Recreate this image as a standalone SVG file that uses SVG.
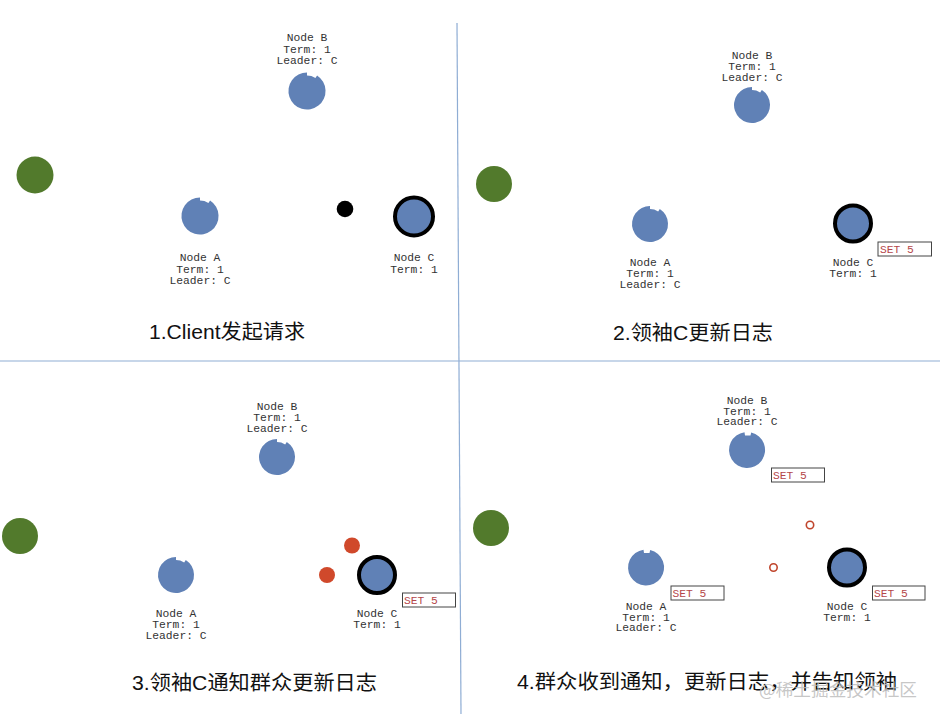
<svg xmlns="http://www.w3.org/2000/svg" width="940" height="720" viewBox="0 0 940 720">
<defs>
  <path id="notchA" d="M 9.80 -15.10 A 18 18 0 1 1 0 -18 L 0 -15 A 15 15 0 0 1 8.17 -12.58 Z"/>
  <path id="notchB" d="M 4.2 -17.5 A 18 18 0 1 1 -2.5 -17.8 L -2 -14.5 L 3.5 -14.6 Z"/>
</defs>
<style>
  .bg { fill: #ffffff; }
  .divider { stroke: #8fadd4; stroke-width: 1.2; fill: none; }
  .follower { fill: #6081b6; }
  .leader { fill: #6081b6; stroke: #000000; stroke-width: 4; }
  .client { fill: #527a2c; }
  .lbl { font-family: "Liberation Mono", "DejaVu Sans Mono", monospace; font-size: 11.3px; fill: #333333; text-anchor: middle; }
  .logbox { fill: #ffffff; stroke: #444444; stroke-width: 1; }
  .logtxt { font-family: "Liberation Mono", "DejaVu Sans Mono", monospace; font-size: 11.3px; fill: #b5474a; }
  .title { font-family: "Liberation Sans", "Noto Sans CJK SC", sans-serif; font-size: 20px; fill: #111111; text-anchor: middle; }
  .title2 { font-family: "Liberation Sans", "Noto Sans CJK SC", sans-serif; font-size: 20px; fill: #111111; }
  .req { fill: #000000; }
  .msg { fill: #d0492b; }
  .ack { fill: none; stroke: #c0452c; stroke-width: 1.6; }
  .wm { font-family: "Noto Sans CJK SC", sans-serif; font-size: 17px; fill: #bdbdbd; fill-opacity: 0.85; }
</style>
<rect class="bg" x="0" y="0" width="940" height="720"/>

<g id="dividers">
  <line class="divider" x1="457" y1="23" x2="461" y2="714"/>
  <line class="divider" x1="0" y1="361" x2="940" y2="361"/>
</g>

<!-- Panel 1 -->
<g id="p1-client"><circle class="client" cx="35" cy="175" r="18.5"/></g>
<g id="p1-nodeB">
  <text class="lbl" x="307" y="41">Node B</text>
  <text class="lbl" x="307" y="52.5">Term: 1</text>
  <text class="lbl" x="307" y="64">Leader: C</text>
  <use href="#notchA" class="follower" transform="translate(307,91) scale(1.03)"/>
</g>
<g id="p1-nodeA">
  <use href="#notchA" class="follower" transform="translate(200,216) scale(1.03)"/>
  <text class="lbl" x="200" y="261">Node A</text>
  <text class="lbl" x="200" y="272.5">Term: 1</text>
  <text class="lbl" x="200" y="284">Leader: C</text>
</g>
<g id="p1-nodeC">
  <circle class="leader" cx="414" cy="216.5" r="19"/>
  <text class="lbl" x="414" y="261">Node C</text>
  <text class="lbl" x="414" y="272.5">Term: 1</text>
</g>
<g id="p1-connectors">
  <circle class="req" cx="345" cy="209" r="8.3"/>
</g>
<text class="title" x="227" y="339" textLength="156" lengthAdjust="spacingAndGlyphs">1.Client发起请求</text>

<!-- Panel 2 -->
<g id="p2-client"><circle class="client" cx="494" cy="184" r="18"/></g>
<g id="p2-nodeB">
  <text class="lbl" x="752" y="59">Node B</text>
  <text class="lbl" x="752" y="70">Term: 1</text>
  <text class="lbl" x="752" y="80.5">Leader: C</text>
  <use href="#notchA" class="follower" transform="translate(752,105)"/>
</g>
<g id="p2-nodeA">
  <use href="#notchA" class="follower" transform="translate(650,224)"/>
  <text class="lbl" x="650" y="266">Node A</text>
  <text class="lbl" x="650" y="277">Term: 1</text>
  <text class="lbl" x="650" y="287.5">Leader: C</text>
</g>
<g id="p2-nodeC">
  <circle class="leader" cx="853" cy="223.5" r="18"/>
  <rect class="logbox" x="878" y="242" width="53.5" height="14"/>
  <text class="logtxt" x="880" y="253">SET 5</text>
  <text class="lbl" x="853" y="266">Node C</text>
  <text class="lbl" x="853" y="277">Term: 1</text>
</g>
<text class="title" x="693" y="340" textLength="160" lengthAdjust="spacingAndGlyphs">2.领袖C更新日志</text>

<!-- Panel 3 -->
<g id="p3-client"><circle class="client" cx="20" cy="536" r="18"/></g>
<g id="p3-nodeB">
  <text class="lbl" x="277" y="410">Node B</text>
  <text class="lbl" x="277" y="421">Term: 1</text>
  <text class="lbl" x="277" y="432">Leader: C</text>
  <use href="#notchA" class="follower" transform="translate(277,457)"/>
</g>
<g id="p3-nodeA">
  <use href="#notchA" class="follower" transform="translate(176,575)"/>
  <text class="lbl" x="176" y="617">Node A</text>
  <text class="lbl" x="176" y="628">Term: 1</text>
  <text class="lbl" x="176" y="639">Leader: C</text>
</g>
<g id="p3-nodeC">
  <circle class="leader" cx="377" cy="575" r="18"/>
  <rect class="logbox" x="402.5" y="593" width="53" height="14"/>
  <text class="logtxt" x="404" y="604">SET 5</text>
  <text class="lbl" x="377" y="617">Node C</text>
  <text class="lbl" x="377" y="628">Term: 1</text>
</g>
<g id="p3-connectors">
  <circle class="msg" cx="352" cy="545.5" r="8"/>
  <circle class="msg" cx="327" cy="575" r="8"/>
</g>
<text class="title2" x="132" y="690" textLength="245" lengthAdjust="spacingAndGlyphs">3.领袖C通知群众更新日志</text>

<!-- Panel 4 -->
<g id="p4-client"><circle class="client" cx="491" cy="528" r="18"/></g>
<g id="p4-nodeB">
  <text class="lbl" x="747" y="404">Node B</text>
  <text class="lbl" x="747" y="414.5">Term: 1</text>
  <text class="lbl" x="747" y="425">Leader: C</text>
  <use href="#notchB" class="follower" transform="translate(747,450)"/>
  <rect class="logbox" x="771.5" y="468" width="53" height="14"/>
  <text class="logtxt" x="773" y="479">SET 5</text>
</g>
<g id="p4-nodeA">
  <use href="#notchB" class="follower" transform="translate(646,567.5)"/>
  <rect class="logbox" x="671" y="586" width="53" height="14"/>
  <text class="logtxt" x="672.5" y="597">SET 5</text>
  <text class="lbl" x="646" y="610">Node A</text>
  <text class="lbl" x="646" y="620.5">Term: 1</text>
  <text class="lbl" x="646" y="631">Leader: C</text>
</g>
<g id="p4-nodeC">
  <circle class="leader" cx="847" cy="567.5" r="18"/>
  <rect class="logbox" x="872.5" y="586" width="52.5" height="14"/>
  <text class="logtxt" x="874" y="597">SET 5</text>
  <text class="lbl" x="847" y="610">Node C</text>
  <text class="lbl" x="847" y="620.5">Term: 1</text>
</g>
<g id="p4-connectors">
  <circle class="ack" cx="810" cy="525" r="3.7"/>
  <circle class="ack" cx="773.5" cy="567.5" r="3.7"/>
</g>
<text class="title2" x="517" y="689" textLength="380" lengthAdjust="spacingAndGlyphs">4.群众收到通知，更新日志，并告知领袖</text>
<text class="wm" x="759" y="696" textLength="158" lengthAdjust="spacingAndGlyphs">@稀土掘金技术社区</text>
</svg>
